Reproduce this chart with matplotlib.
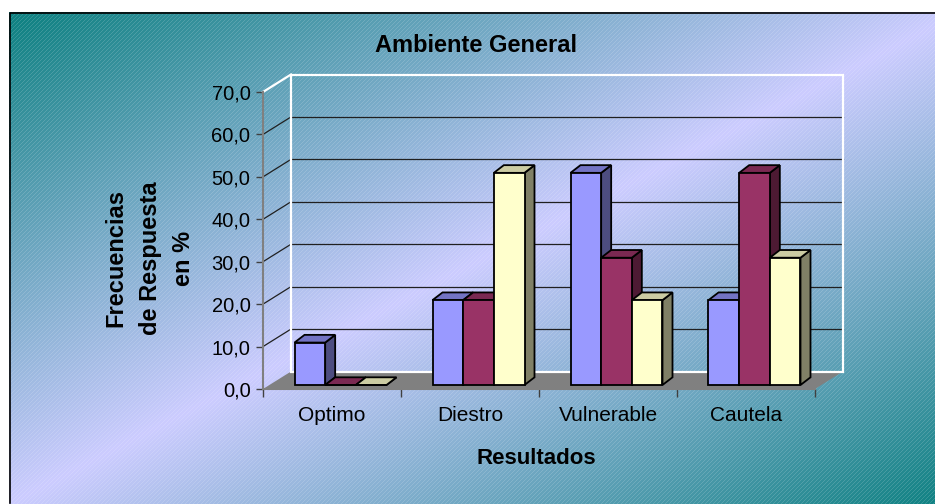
import numpy as np
import matplotlib
matplotlib.use('Agg')
import matplotlib.pyplot as plt
from matplotlib.patches import Polygon, Rectangle
from matplotlib.ticker import FuncFormatter

plt.rcParams['font.family'] = ['Liberation Sans', 'DejaVu Sans']

# Datos
categorias = ['Optimo', 'Diestro', 'Vulnerable', 'Cautela']
serie_1 = [10.0, 20.0, 50.0, 20.0]
serie_2 = [0.0, 20.0, 30.0, 50.0]
serie_3 = [0.0, 50.0, 20.0, 30.0]
series = [serie_1, serie_2, serie_3]
y_ticks = [0, 10, 20, 30, 40, 50, 60, 70]

titulo = 'Ambiente General'
eje_x = 'Resultados'
eje_y = 'Frecuencias\nde Respuesta\nen %'

# frente, arriba, lado
colores = [('#9999FF', '#7373C4', '#4D4D80'),
           ('#993366', '#7A2952', '#4D1A33'),
           ('#FFFFCC', '#CCCCA3', '#808066')]

W, H = 935, 504
fig = plt.figure(figsize=(W / 100, H / 100), dpi=100)

# fondo degradado con trama diagonal
bg = fig.add_axes([0, 0, 1, 1], zorder=0)
yy, xx = np.mgrid[0:H, 0:W]
fx0, fy0, fx1, fy1 = 9, 12, 960, 503
s = (xx - fx0) / (fx1 - fx0) + (yy - fy0) / (fy1 - fy0)
t = np.clip(1 - np.abs(s - 1), 0, 1)
teal = np.array([0x0C, 0x80, 0x80]) / 255
lav = np.array([0xCC, 0xCC, 0xFF]) / 255
img = teal + (lav - teal) * t[..., None]
trama = (xx + yy) % 4 == 0
img[trama] = img[trama] * 0.85 + 0.15
dentro = (xx >= fx0) & (yy >= fy0) & (yy <= fy1)
img[~dentro] = 1
bg.imshow(img, extent=(0, W, H, 0), interpolation='nearest', aspect='auto')
bg.set_xlim(0, W)
bg.set_ylim(H, 0)
bg.plot([fx0 + 0.5, fx0 + 0.5, W], [fy1, fy0 + 0.5, fy0 + 0.5], color='black', lw=1.2)
bg.axis('off')

# plano frontal del grafico (pixeles)
px0, px1 = 263, 815
py_bot, py_top = 389, 92
n = len(categorias)
ymax = y_ticks[-1]
ax = fig.add_axes([px0 / W, 1 - py_bot / H, (px1 - px0) / W, (py_bot - py_top) / H],
                  zorder=1)
ax.set_xlim(0, n)
ax.set_ylim(0, ymax)
ax.patch.set_visible(False)

sx = (px1 - px0) / n
sy = (py_bot - py_top) / ymax


def off(dx, dy):
    return dx / sx, dy / sy


fdx, fdy = off(28, 17.5)   # profundidad del piso
bfx, bfy = off(8.5, 4.0)   # frente de las barras
bbx, bby = off(18.5, 11.7)  # fondo de las barras
ddx, ddy = bbx - bfx, bby - bfy

# piso
ax.add_patch(Polygon([(0, 0), (n, 0), (n + fdx, fdy), (fdx, fdy)],
                     closed=True, fc='#808080', ec='none', clip_on=False, zorder=1))

# lineas de division (pared de fondo y lateral)
for v in y_ticks[1:-1]:
    ax.plot([fdx, n + fdx], [v + fdy, v + fdy], color='#202020', lw=0.9,
            clip_on=False, zorder=1.5)
    ax.plot([0, fdx], [v, v + fdy], color='#202020', lw=0.9, clip_on=False, zorder=1.5)

# borde blanco de la pared
ax.add_patch(Rectangle((fdx, fdy), n, ymax, fill=False, ec='white', lw=1.6,
                       clip_on=False, zorder=1.6))
ax.plot([0, fdx], [ymax, ymax + fdy], color='white', lw=1.6, clip_on=False, zorder=1.6)

# barras 3D
w = 1 / 4.5
z = 3
for i in range(n):
    for k, serie in enumerate(series):
        v = serie[i]
        fc, tc, lc = colores[k]
        xl = i + 0.75 * w + k * w + bfx
        xr = xl + w
        y0 = bfy
        y1 = v + bfy
        lado = [(xr, y0), (xr + ddx, y0 + ddy), (xr + ddx, y1 + ddy), (xr, y1)]
        tapa = [(xl, y1), (xr, y1), (xr + ddx, y1 + ddy), (xl + ddx, y1 + ddy)]
        frente = [(xl, y0), (xr, y0), (xr, y1), (xl, y1)]
        for pts, c in ((lado, lc), (tapa, tc), (frente, fc)):
            ax.add_patch(Polygon(pts, closed=True, fc=c, ec='black', lw=1.3,
                                 joinstyle='miter', clip_on=False, zorder=z))
        z += 0.01

# ejes
for lado_eje in ('top', 'right'):
    ax.spines[lado_eje].set_visible(False)
for lado_eje in ('left', 'bottom'):
    ax.spines[lado_eje].set_color('#808080')
    ax.spines[lado_eje].set_linewidth(1.5)
    ax.spines[lado_eje].set_zorder(2)

ax.set_yticks(y_ticks)
ax.yaxis.set_major_formatter(FuncFormatter(lambda v, p: f'{v:.1f}'.replace('.', ',')))
ax.tick_params(axis='y', direction='out', length=5, width=1, color='#404040',
               labelsize=14.5, pad=4)
ax.set_xticks(range(n + 1))
ax.set_xticklabels([])
ax.set_xticks([i + 0.5 for i in range(n)], minor=True)
ax.set_xticklabels(categorias, minor=True)
ax.tick_params(axis='x', which='major', direction='out', length=6, width=1,
               color='#404040')
ax.tick_params(axis='x', which='minor', length=0, labelsize=15, pad=12)

fig.text(476 / W, 1 - 45 / H, titulo, fontsize=17, fontweight='bold',
         ha='center', va='center')
fig.text(536 / W, 1 - 459 / H, eje_x, fontsize=16, fontweight='bold',
         ha='center', va='center')
fig.text(150 / W, 1 - 258 / H, eje_y, fontsize=17, fontweight='bold',
         ha='center', va='center', rotation=90, multialignment='center',
         linespacing=1.6)

fig.savefig('out.png', dpi=100)
